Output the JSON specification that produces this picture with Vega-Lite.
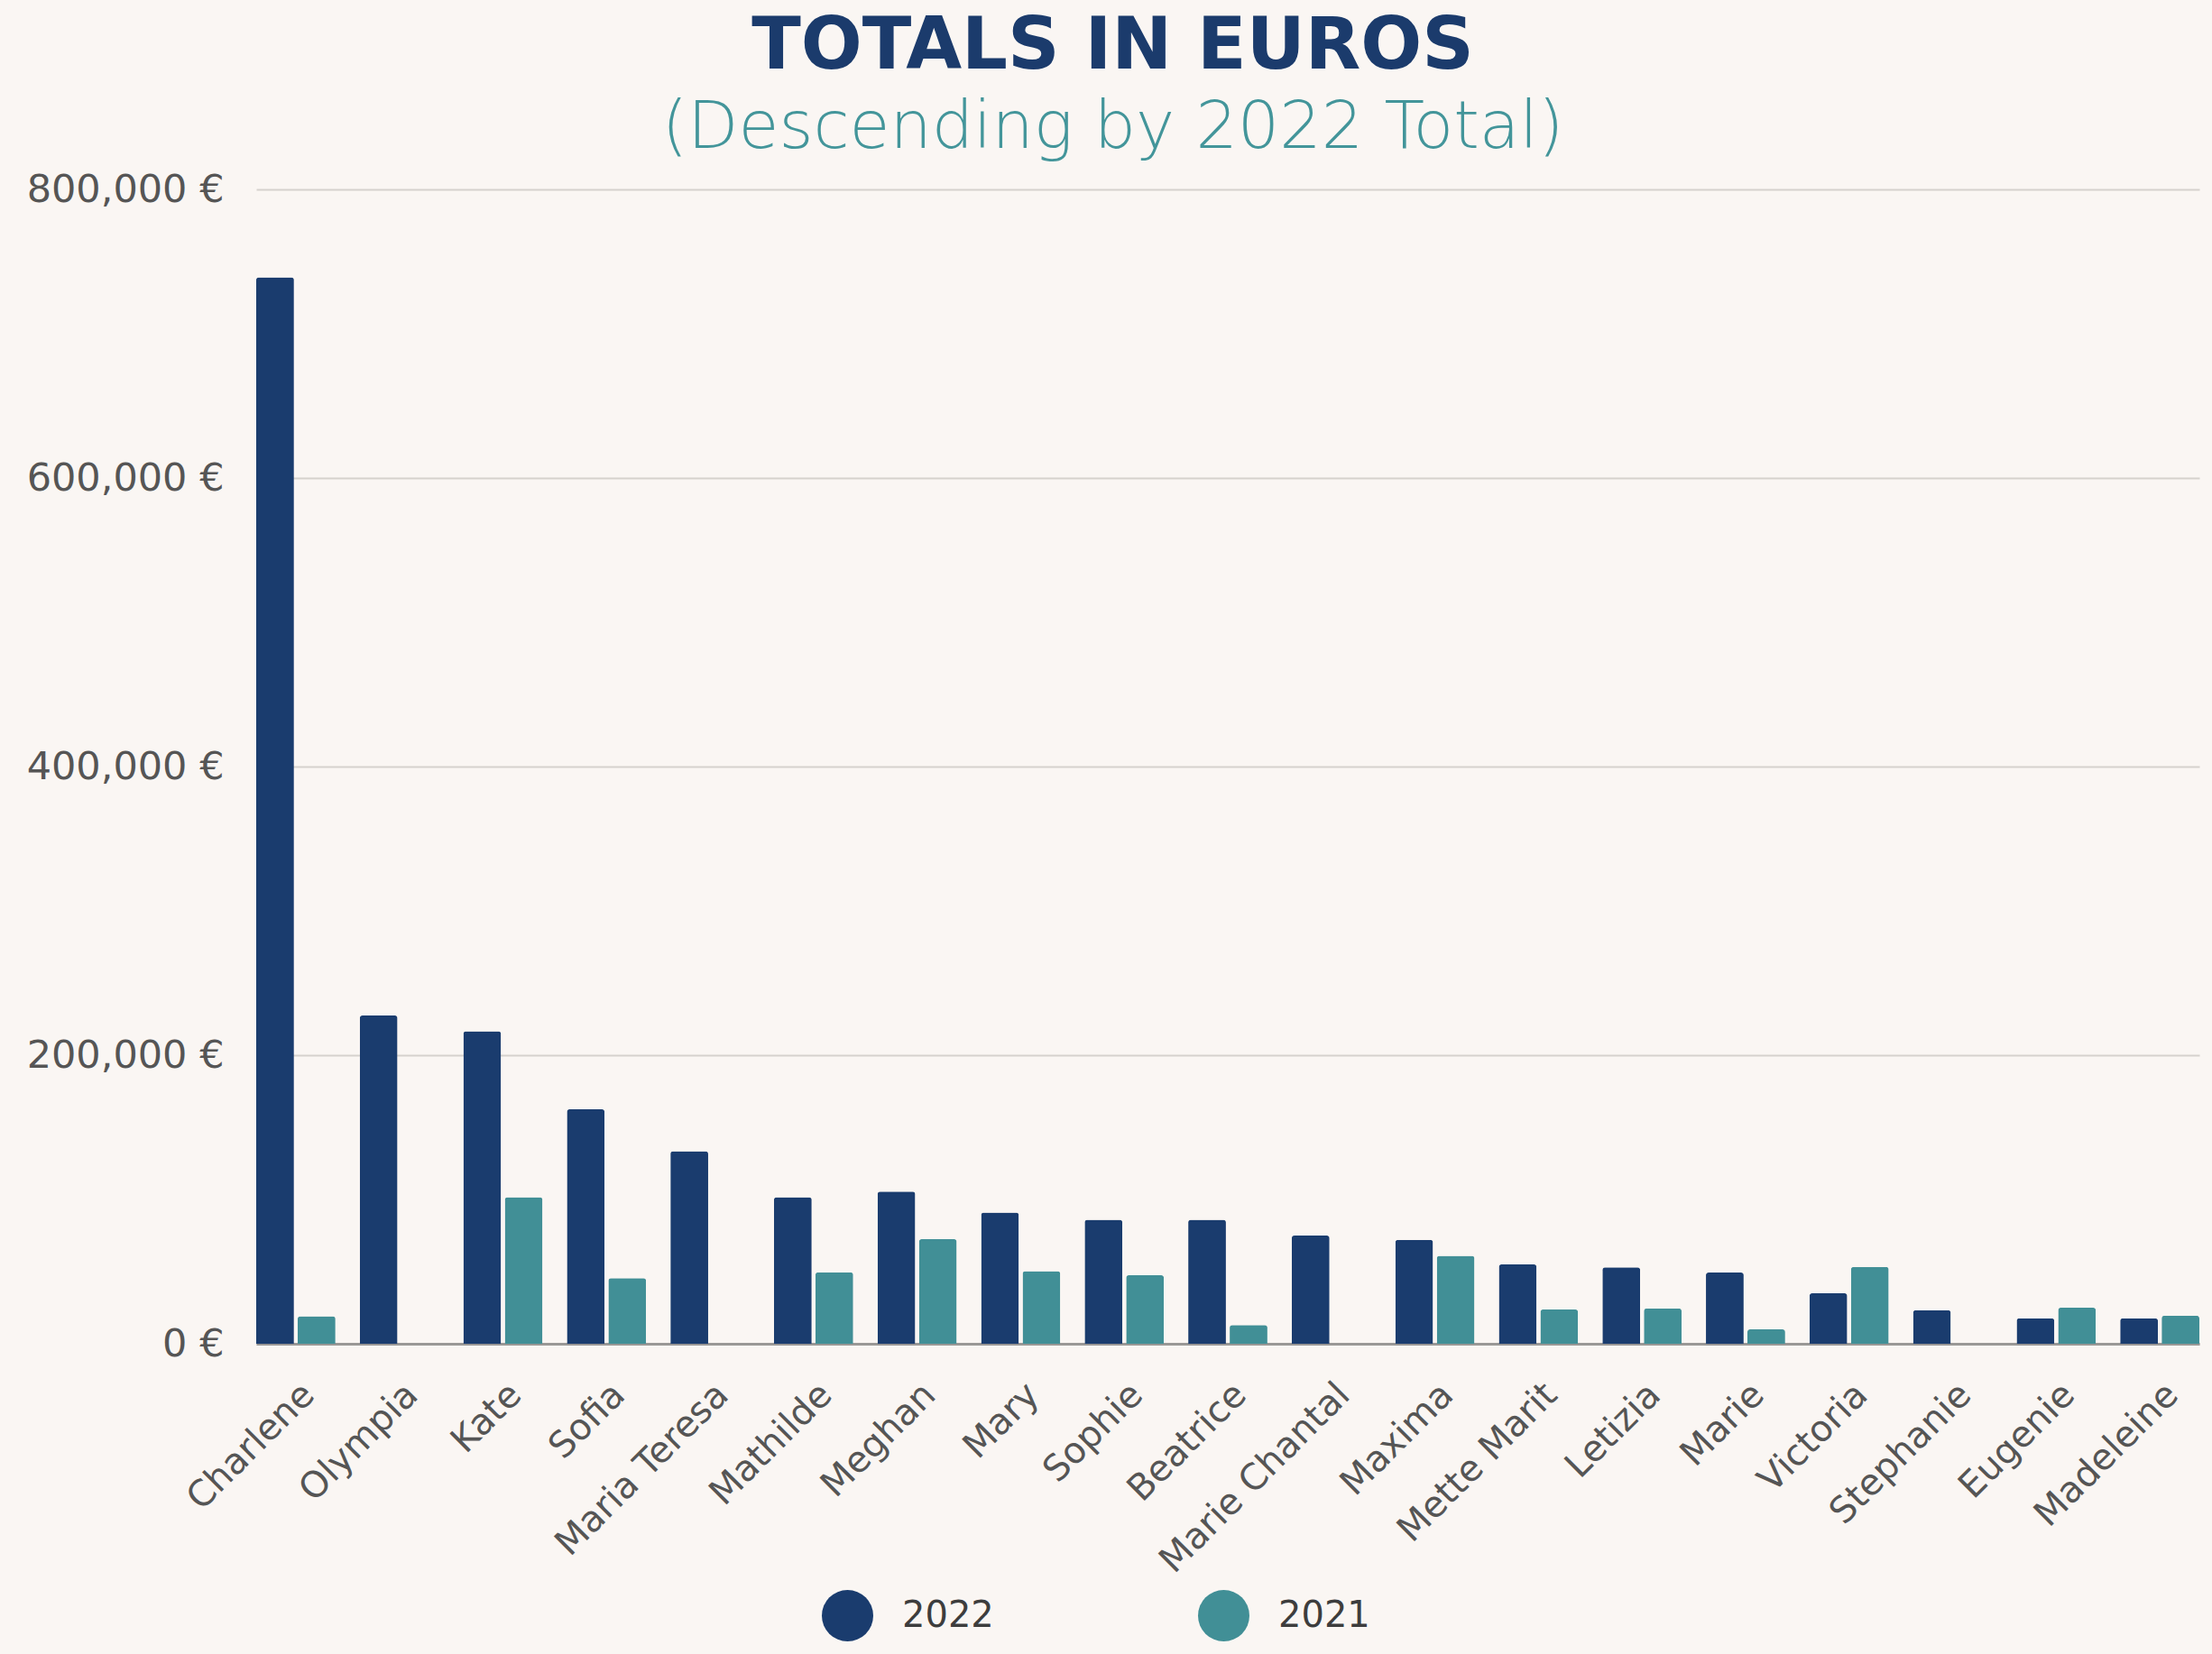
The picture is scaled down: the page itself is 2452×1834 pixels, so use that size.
{
  "$schema": "https://vega.github.io/schema/vega-lite/v6.json",
  "autosize": {"type": "none"},
  "padding": {"left": 284, "top": 210, "right": 14, "bottom": 344},
  "width": 2154,
  "height": 1280,
  "background": "#faf6f3",
  "title": {
    "text": "TOTALS IN EUROS",
    "subtitle": "(Descending by 2022 Total)",
    "anchor": "middle",
    "frame": "bounds",
    "offset": 9,
    "font": "DejaVu Sans",
    "fontSize": 80,
    "fontWeight": "bold",
    "color": "#1b3b6c",
    "subtitleFont": "DejaVu Sans",
    "subtitleFontSize": 73,
    "subtitleFontWeight": 200,
    "subtitleColor": "#43959a",
    "subtitlePadding": 13
  },
  "data": {
    "values": [
      {"name": "Charlene", "year": "2022", "value": 739000},
      {"name": "Charlene", "year": "2021", "value": 19000},
      {"name": "Olympia", "year": "2022", "value": 227500},
      {"name": "Kate", "year": "2022", "value": 216500},
      {"name": "Kate", "year": "2021", "value": 101500},
      {"name": "Sofia", "year": "2022", "value": 162500},
      {"name": "Sofia", "year": "2021", "value": 45500},
      {"name": "Maria Teresa", "year": "2022", "value": 133500},
      {"name": "Mathilde", "year": "2022", "value": 101500},
      {"name": "Mathilde", "year": "2021", "value": 49500},
      {"name": "Meghan", "year": "2022", "value": 105500},
      {"name": "Meghan", "year": "2021", "value": 72500},
      {"name": "Mary", "year": "2022", "value": 91000},
      {"name": "Mary", "year": "2021", "value": 50300},
      {"name": "Sophie", "year": "2022", "value": 86000},
      {"name": "Sophie", "year": "2021", "value": 47500},
      {"name": "Beatrice", "year": "2022", "value": 86000},
      {"name": "Beatrice", "year": "2021", "value": 13000},
      {"name": "Marie Chantal", "year": "2022", "value": 75000},
      {"name": "Maxima", "year": "2022", "value": 72000},
      {"name": "Maxima", "year": "2021", "value": 61000},
      {"name": "Mette Marit", "year": "2022", "value": 55000},
      {"name": "Mette Marit", "year": "2021", "value": 23700},
      {"name": "Letizia", "year": "2022", "value": 53000},
      {"name": "Letizia", "year": "2021", "value": 24400},
      {"name": "Marie", "year": "2022", "value": 49300},
      {"name": "Marie", "year": "2021", "value": 10000},
      {"name": "Victoria", "year": "2022", "value": 35000},
      {"name": "Victoria", "year": "2021", "value": 53300},
      {"name": "Stephanie", "year": "2022", "value": 23300},
      {"name": "Eugenie", "year": "2022", "value": 17700},
      {"name": "Eugenie", "year": "2021", "value": 25000},
      {"name": "Madeleine", "year": "2022", "value": 17700},
      {"name": "Madeleine", "year": "2021", "value": 19400}
    ]
  },
  "mark": {"type": "bar", "cornerRadiusTopLeft": 3, "cornerRadiusTopRight": 3},
  "encoding": {
    "x": {
      "field": "name",
      "type": "nominal",
      "sort": ["Charlene", "Olympia", "Kate", "Sofia", "Maria Teresa", "Mathilde", "Meghan", "Mary", "Sophie", "Beatrice", "Marie Chantal", "Maxima", "Mette Marit", "Letizia", "Marie", "Victoria", "Stephanie", "Eugenie", "Madeleine"],
      "scale": {"paddingInner": 0.235, "paddingOuter": 0},
      "axis": {
        "title": null,
        "labelAngle": -45,
        "labelFont": "DejaVu Sans",
        "labelFontSize": 40,
        "labelColor": "#555555",
        "labelPadding": 36,
        "ticks": false,
        "domainColor": "#9a9896",
        "domainWidth": 3,
        "labelLimit": 0
      }
    },
    "xOffset": {
      "field": "year",
      "type": "nominal",
      "scale": {"domain": ["2022", "2021"], "paddingInner": 0.09, "paddingOuter": 0}
    },
    "y": {
      "field": "value",
      "type": "quantitative",
      "scale": {"domain": [0, 800000], "nice": false},
      "axis": {
        "title": null,
        "values": [0, 200000, 400000, 600000, 800000],
        "labelExpr": "format(datum.value, ',') + ' €'",
        "labelFont": "DejaVu Sans",
        "labelFontSize": 43,
        "labelColor": "#555555",
        "labelPadding": 36,
        "labelLimit": 0,
        "ticks": false,
        "domain": false,
        "gridColor": "#d5d1cd",
        "gridWidth": 2
      }
    },
    "color": {
      "field": "year",
      "type": "nominal",
      "scale": {"domain": ["2022", "2021"], "range": ["#1a3c6e", "#418f96"]},
      "legend": {
        "title": null,
        "orient": "none",
        "direction": "horizontal",
        "legendX": 627,
        "legendY": 1553,
        "symbolType": "circle",
        "symbolSize": 3249,
        "symbolStrokeWidth": 0,
        "symbolOpacity": 1,
        "labelFont": "DejaVu Sans",
        "labelFontSize": 40,
        "labelColor": "#3d3d3d",
        "labelOffset": 32,
        "columnPadding": 226
      }
    }
  },
  "config": {
    "view": {"stroke": null},
    "font": "DejaVu Sans"
  }
}
